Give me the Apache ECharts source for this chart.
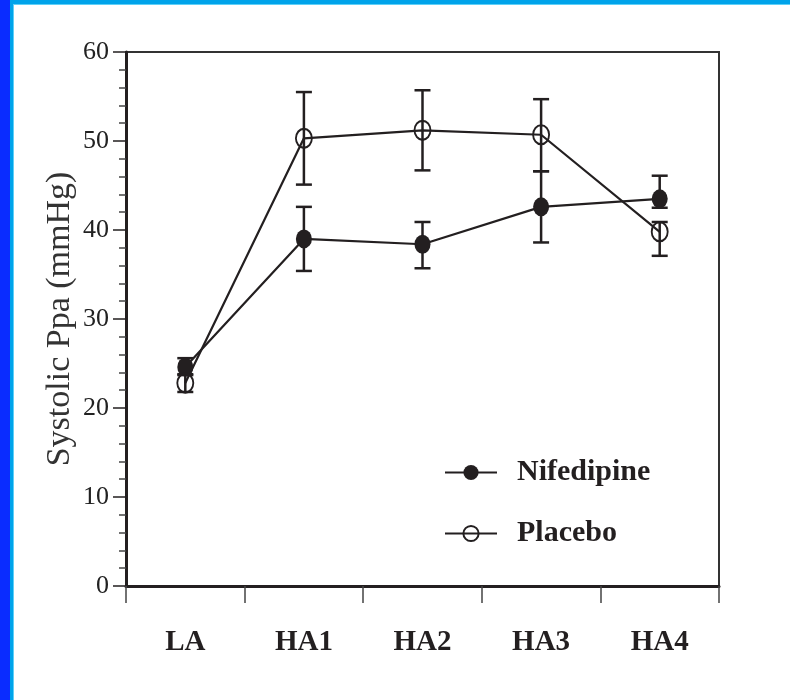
<!DOCTYPE html>
<html>
<head>
<meta charset="utf-8">
<script src="https://cdn.jsdelivr.net/npm/echarts@6/dist/echarts.min.js"></script>
<style>html,body{margin:0;padding:0;background:#fff}#chart{width:790px;height:700px}</style>
</head>
<body>
<div id="chart"></div>
<script>
const categories = ['LA', 'HA1', 'HA2', 'HA3', 'HA4'];
const nifedipine = [24.6, 39.0, 38.4, 42.6, 43.5];
const nifedipineLow = [23.7, 35.4, 35.7, 38.6, 42.5];
const nifedipineHigh = [25.6, 42.6, 40.9, 46.6, 46.1];
const placebo = [22.8, 50.3, 51.2, 50.7, 39.8];
const placeboLow = [21.8, 45.1, 46.7, 46.6, 37.1];
const placeboHigh = [23.8, 55.5, 55.7, 54.7, 40.9];
const yMin = 0, yMax = 60, yInterval = 10;

const INK = '#231f20';
const SERIF = "'Liberation Serif', 'Times New Roman', serif";

function errorBarSeries(name, low, high) {
  return {
    type: 'custom',
    name: name + ' SE',
    z: 1,
    silent: true,
    data: categories.map((c, i) => [i, low[i], high[i]]),
    encode: { x: 0, y: [1, 2] },
    renderItem: function (params, api) {
      const x = api.value(0);
      const lo = api.coord([x, api.value(1)]);
      const hi = api.coord([x, api.value(2)]);
      const w = 8;
      const st = { stroke: INK, lineWidth: 2.5 };
      return {
        type: 'group',
        children: [
          { type: 'line', shape: { x1: lo[0], y1: lo[1], x2: hi[0], y2: hi[1] }, style: st },
          { type: 'line', shape: { x1: lo[0] - w, y1: lo[1], x2: lo[0] + w, y2: lo[1] }, style: st },
          { type: 'line', shape: { x1: hi[0] - w, y1: hi[1], x2: hi[0] + w, y2: hi[1] }, style: st }
        ]
      };
    }
  };
}

const chart = echarts.init(document.getElementById('chart'), null, { renderer: 'canvas' });
chart.setOption({
  animation: false,
  backgroundColor: '#ffffff',
  graphic: [
    { type: 'rect', z: 100, shape: { x: 0, y: 0, width: 790, height: 4 }, style: { fill: '#00a3ea' } },
    { type: 'rect', z: 100, shape: { x: 0, y: 4, width: 790, height: 1 }, style: { fill: '#5fd0f7' } },
    { type: 'rect', z: 101, shape: { x: 0, y: 0, width: 10, height: 700 }, style: { fill: '#0a2cff' } },
    { type: 'rect', z: 101, shape: { x: 10, y: 0, width: 3, height: 700 }, style: { fill: '#00a3ea' } },
    { type: 'rect', z: 101, shape: { x: 13, y: 4, width: 1, height: 696 }, style: { fill: '#5fd0f7' } }
  ],
  grid: {
    left: 126, right: 71, top: 52, bottom: 114,
    containLabel: false,
    show: true,
    borderColor: '#333',
    borderWidth: 2,
    backgroundColor: 'transparent'
  },
  legend: {
    orient: 'vertical',
    left: 444,
    top: 457,
    padding: 0,
    itemWidth: 52,
    itemHeight: 19,
    itemGap: 30,
    selectedMode: false,
    data: ['Nifedipine', 'Placebo'],
    textStyle: {
      fontFamily: SERIF, fontWeight: 'bold', fontSize: 30, color: INK,
      lineHeight: 31, padding: [0, 0, 0, 15]
    }
  },
  xAxis: {
    type: 'category',
    data: categories,
    boundaryGap: true,
    axisLine: { show: true, lineStyle: { color: INK, width: 3 } },
    axisTick: { show: true, length: 17, interval: 0, lineStyle: { color: '#444', width: 1.5 } },
    axisLabel: { fontFamily: SERIF, fontWeight: 'bold', fontSize: 29, color: INK, margin: 42 },
    splitLine: { show: false }
  },
  yAxis: {
    type: 'value',
    min: yMin, max: yMax, interval: yInterval,
    name: 'Systolic Ppa (mmHg)',
    nameLocation: 'middle',
    nameRotate: 90,
    nameGap: 49,
    nameMoveOverlap: false,
    nameTextStyle: { fontFamily: SERIF, fontSize: 34, color: '#333' },
    axisLine: { show: true, lineStyle: { color: INK, width: 3 } },
    axisTick: { show: true, inside: false, length: 13, lineStyle: { color: INK, width: 1.5 } },
    minorTick: { show: true, splitNumber: 5, length: 7, lineStyle: { color: '#444', width: 1.5 } },
    axisLabel: { fontFamily: SERIF, fontSize: 26, color: '#222', margin: 17 },
    splitLine: { show: false }
  },
  series: [
    errorBarSeries('Nifedipine', nifedipineLow, nifedipineHigh),
    errorBarSeries('Placebo', placeboLow, placeboHigh),
    {
      name: 'Nifedipine',
      type: 'line',
      z: 3,
      data: nifedipine,
      symbol: 'circle',
      symbolSize: [16, 19],
      showAllSymbol: true,
      lineStyle: { color: INK, width: 2.2 },
      itemStyle: { color: INK, borderColor: INK, borderWidth: 0 }
    },
    {
      name: 'Placebo',
      type: 'line',
      z: 3,
      data: placebo,
      symbol: 'circle',
      symbolSize: [16, 19],
      showAllSymbol: true,
      lineStyle: { color: INK, width: 2.2 },
      itemStyle: { color: 'rgba(255,255,255,0)', borderColor: INK, borderWidth: 2 }
    }
  ]
});
</script>
</body>
</html>
